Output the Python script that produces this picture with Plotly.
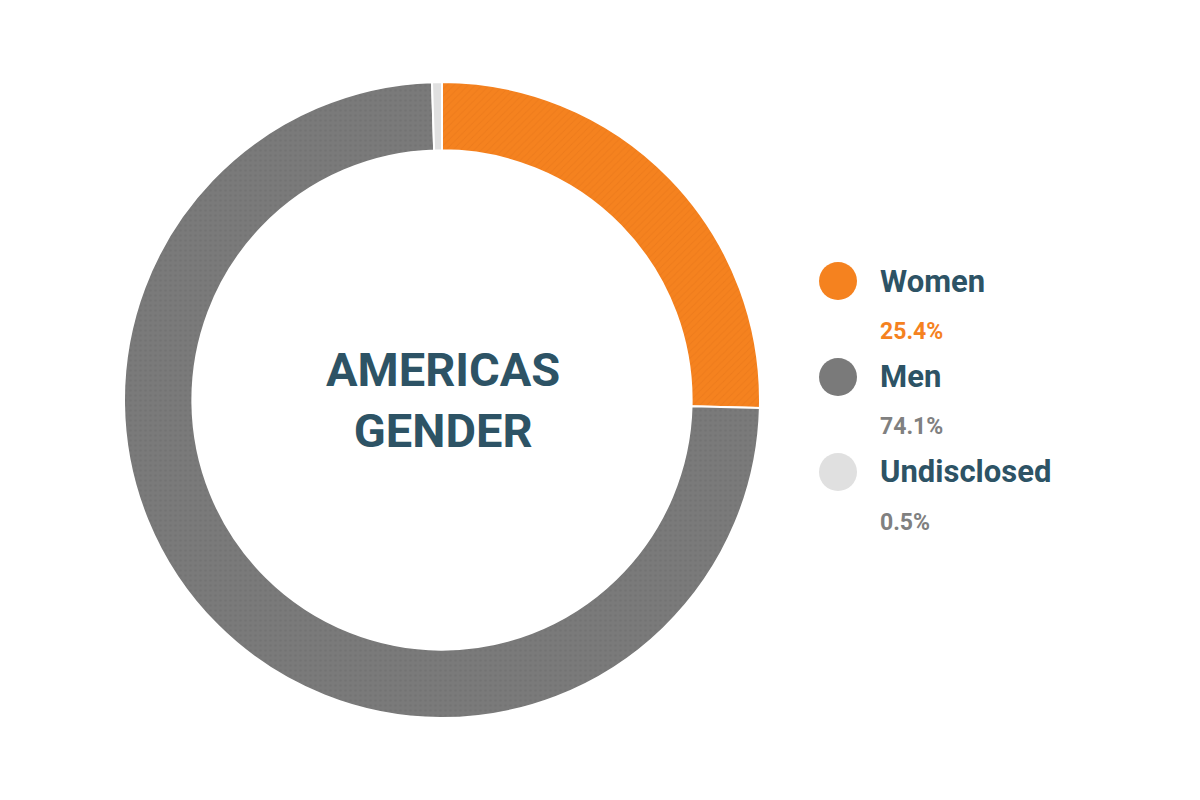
import plotly.graph_objects as go

labels = ["Women", "Men", "Undisclosed"]
values = [25.4, 74.1, 0.5]
pct_text = ["25.4%", "74.1%", "0.5%"]
colors = ["#f5821f", "#7a7a7a", "#e0e0e0"]
pct_colors = ["#f5821f", "#808080", "#808080"]

# page has an 8px body offset, compensate
dx, dy = 8, 8
W, H = 1200, 800

def px_x(x):
    return (x - dx) / W

def px_y(y):
    return 1 - (y - dy) / H

fig = go.Figure(go.Pie(
    labels=labels, values=values, hole=0.785, sort=False, direction="clockwise",
    rotation=0, textinfo="none", hoverinfo="label+percent",
    marker=dict(colors=colors, line=dict(color="white", width=2),
                pattern=dict(shape=["/", ".", ""], fgcolor=["#e57418", "#6c6c6c", "#e0e0e0"],
                             fillmode="overlay", size=5, solidity=0.2)),
    domain=dict(x=[px_x(124), px_x(760)], y=[px_y(718), px_y(82)]),
    showlegend=False,
))

fig.add_annotation(text="AMERICAS<br>GENDER", x=px_x(443), y=px_y(400), xref="paper", yref="paper",
                   showarrow=False, font=dict(family="Roboto", size=47, color="#2d5365", weight="bold"))

navy = "#2d5365"
rows_y = [281, 377, 472]
for i, lab in enumerate(labels):
    cy = px_y(rows_y[i])
    fig.add_shape(type="circle", xref="paper", yref="paper",
                  x0=px_x(838 - 19), x1=px_x(838 + 19),
                  y0=cy - 19 / H, y1=cy + 19 / H,
                  fillcolor=colors[i], line=dict(width=0))
    fig.add_annotation(text=lab, x=px_x(878), y=cy, xref="paper", yref="paper",
                       xanchor="left", showarrow=False,
                       font=dict(family="Roboto", size=31, color=navy, weight="bold"))
    fig.add_annotation(text=pct_text[i], x=px_x(878), y=cy - 50 / H, xref="paper", yref="paper",
                       xanchor="left", showarrow=False,
                       font=dict(family="Roboto", size=23, color=pct_colors[i], weight="bold"))

fig.update_layout(width=W, height=H, margin=dict(l=0, r=0, t=0, b=0),
                  paper_bgcolor="white", plot_bgcolor="white")

fig.write_html("out.html")
